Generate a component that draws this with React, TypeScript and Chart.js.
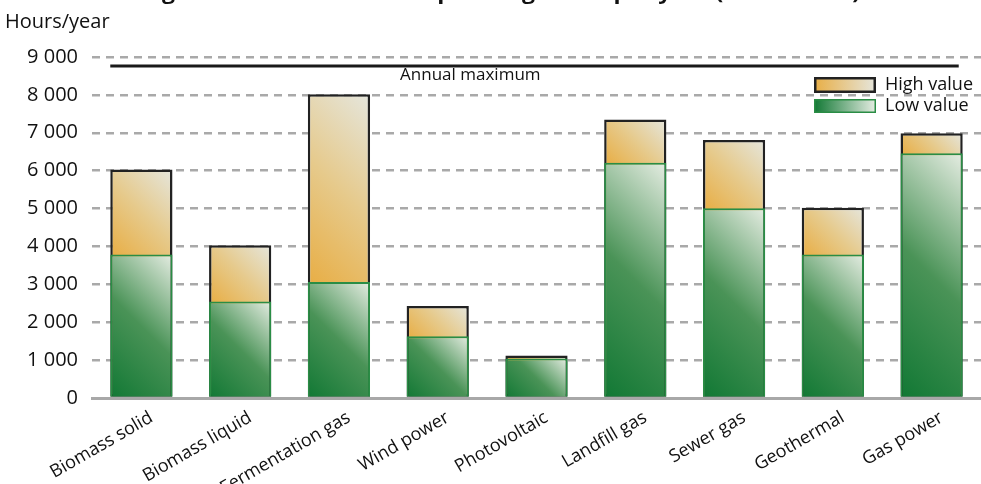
import React, { useEffect, useRef } from "react";
import { Chart, registerables } from "chart.js";

Chart.register(...registerables);

// ---------- data ----------
const categories = [
  "Biomass solid",
  "Biomass liquid",
  "Fermentation gas",
  "Wind power",
  "Photovoltaic",
  "Landfill gas",
  "Sewer gas",
  "Geothermal",
  "Gas power",
];
const highValues = [6030, 4030, 8020, 2430, 1120, 7350, 6810, 5020, 6990];
const lowValues = [3790, 2550, 3060, 1630, 1040, 6210, 5010, 3790, 6460];
const annualMaximum = 8760;
const yTickValues = [0, 1000, 2000, 3000, 4000, 5000, 6000, 7000, 8000, 9000];
const yTickLabels = ["0", "1 000", "2 000", "3 000", "4 000", "5 000", "6 000", "7 000", "8 000", "9 000"];
const seriesNames = ["High value", "Low value"];
const titleText = "Average number of full-load operating hours per year (2007 – 2010)";
const yAxisTitle = "Hours/year";
const annualLabel = "Annual maximum";

// ---------- styles ----------
const FONT = "'Open Sans', 'DejaVu Sans', sans-serif";
const BAR_PCT = 0.63;
const GREEN_STOPS: [number, string][] = [
  [0, "#117834"],
  [0.5, "#4a9357"],
  [1, "#e6ede3"],
];
const ORANGE_STOPS: [number, string][] = [
  [0, "#e8ae45"],
  [0.5, "#e6ca8c"],
  [1, "#e5e6dd"],
];

// 45° diagonal gradient from bottom-left (saturated) to top-right (light)
function barGradient(stops: [number, string][], baseValues: number[] | null) {
  return (c: any) => {
    const chart = c.chart;
    const xs = chart.scales?.x;
    const ys = chart.scales?.y;
    if (!xs || !ys || c.type !== "data" || !chart.chartArea) return stops[0][1];
    const cx = xs.getPixelForValue(c.dataIndex);
    const w = (xs.width / categories.length) * BAR_PCT;
    const left = cx - w / 2;
    const top = ys.getPixelForValue(c.raw);
    const bottom = ys.getPixelForValue(baseValues ? baseValues[c.dataIndex] : 0);
    const h = Math.max(1, bottom - top);
    const L = (w + h) / 2;
    const g = chart.ctx.createLinearGradient(left, bottom, left + L, bottom - L);
    stops.forEach(([o, col]) => g.addColorStop(o, col));
    return g;
  };
}

const decorPlugin = {
  id: "decor",
  afterDatasetsDraw(chart: any) {
    const ctx = chart.ctx;
    const xs = chart.scales.x;
    const ys = chart.scales.y;
    const area = chart.chartArea;
    ctx.save();

    // Annual maximum line
    const half = ((xs.width / categories.length) * BAR_PCT) / 2;
    const yMax = ys.getPixelForValue(annualMaximum);
    const x0 = xs.getPixelForValue(0) - half;
    const x1 = xs.getPixelForValue(categories.length - 1) + half - 4;
    ctx.strokeStyle = "#1a1a1a";
    ctx.lineWidth = 3;
    ctx.beginPath();
    ctx.moveTo(x0, yMax);
    ctx.lineTo(x1, yMax);
    ctx.stroke();

    ctx.fillStyle = "#111";
    ctx.font = `17px ${FONT}`;
    ctx.textAlign = "center";
    ctx.textBaseline = "top";
    ctx.fillText(annualLabel, xs.getPixelForValue(3.33), yMax + 1);

    // Legend
    const sx = area.right - 167;
    const sw = 62;
    const entries = [
      { y: area.top + 20, h: 16, stops: ORANGE_STOPS, border: "#222", bw: 2.5 },
      { y: area.top + 42, h: 14, stops: GREEN_STOPS, border: "#2a8d45", bw: 1.5 },
    ];
    entries.forEach((e, i) => {
      const g = ctx.createLinearGradient(sx, 0, sx + sw, 0);
      g.addColorStop(0, e.stops[0][1]);
      g.addColorStop(1, e.stops[e.stops.length - 1][1]);
      ctx.fillStyle = g;
      ctx.fillRect(sx, e.y, sw, e.h);
      ctx.strokeStyle = e.border;
      ctx.lineWidth = e.bw;
      ctx.strokeRect(sx + e.bw / 2, e.y + e.bw / 2, sw - e.bw, e.h - e.bw);
      ctx.fillStyle = "#111";
      ctx.font = `18px ${FONT}`;
      ctx.textAlign = "left";
      ctx.textBaseline = "middle";
      ctx.fillText(seriesNames[i], sx + sw + 9, e.y + e.h / 2);
    });

    // Y axis title
    ctx.font = `20px ${FONT}`;
    ctx.textAlign = "left";
    ctx.textBaseline = "alphabetic";
    ctx.fillStyle = "#111";
    ctx.fillText(yAxisTitle, 5, 28);

    // Chart title (clipped at the top like the reference)
    ctx.font = `bold 20px ${FONT}`;
    const w = ctx.measureText(titleText).width;
    const targetW = 765;
    ctx.translate(95, -1);
    ctx.scale(targetW / w, 1);
    ctx.fillText(titleText, 0, 0);

    ctx.restore();
  },
};

export default function App() {
  const ref = useRef<HTMLCanvasElement | null>(null);

  useEffect(() => {
    if (!ref.current) return;
    const chart = new Chart(ref.current, {
      type: "bar",
      data: {
        labels: categories,
        datasets: [
          {
            label: seriesNames[1],
            data: lowValues,
            backgroundColor: barGradient(GREEN_STOPS, null),
            borderColor: "#2a8d45",
            borderWidth: 2,
            grouped: false,
            barPercentage: BAR_PCT,
            categoryPercentage: 1,
          } as any,
          {
            label: seriesNames[0],
            data: highValues,
            backgroundColor: barGradient(ORANGE_STOPS, lowValues),
            borderColor: "#222222",
            borderWidth: 2.5,
            borderSkipped: false,
            grouped: false,
            barPercentage: BAR_PCT,
            categoryPercentage: 1,
          } as any,
        ],
      },
      options: {
        responsive: false,
        animation: false,
        devicePixelRatio: 1,
        layout: { padding: { top: 57, left: 0, right: 0, bottom: 0 } },
        plugins: {
          legend: { display: false },
          tooltip: { enabled: false },
          title: { display: false },
        },
        scales: {
          x: {
            offset: true,
            grid: { display: false },
            border: { display: true, color: "#a8a8a8", width: 3 },
            ticks: {
              color: "#111",
              font: { family: FONT, size: 18 },
              minRotation: 30,
              maxRotation: 30,
              padding: 1,
              labelOffset: 10,
              autoSkip: false,
            },
            afterFit: (s: any) => {
              s.height = 86;
            },
          },
          y: {
            min: 0,
            max: 9000,
            afterBuildTicks: (s: any) => {
              s.ticks = yTickValues.map((v) => ({ value: v }));
            },
            grid: {
              color: "#a9a9a9",
              lineWidth: 2.5,
              drawTicks: false,
            },
            border: { display: false, dash: [8, 6] },
            ticks: {
              color: "#111",
              font: { family: FONT, size: 20 },
              padding: 14,
              callback: (_v: any, i: number) => yTickLabels[i],
            },
            afterFit: (s: any) => {
              s.width = 92;
            },
          },
        },
      },
      plugins: [decorPlugin],
    });
    return () => chart.destroy();
  }, []);

  return (
    <div style={{ position: "absolute", left: 0, top: 0, width: 981, height: 484, background: "#fff" }}>
      <canvas ref={ref} width={981} height={484} style={{ display: "block" }} />
    </div>
  );
}
